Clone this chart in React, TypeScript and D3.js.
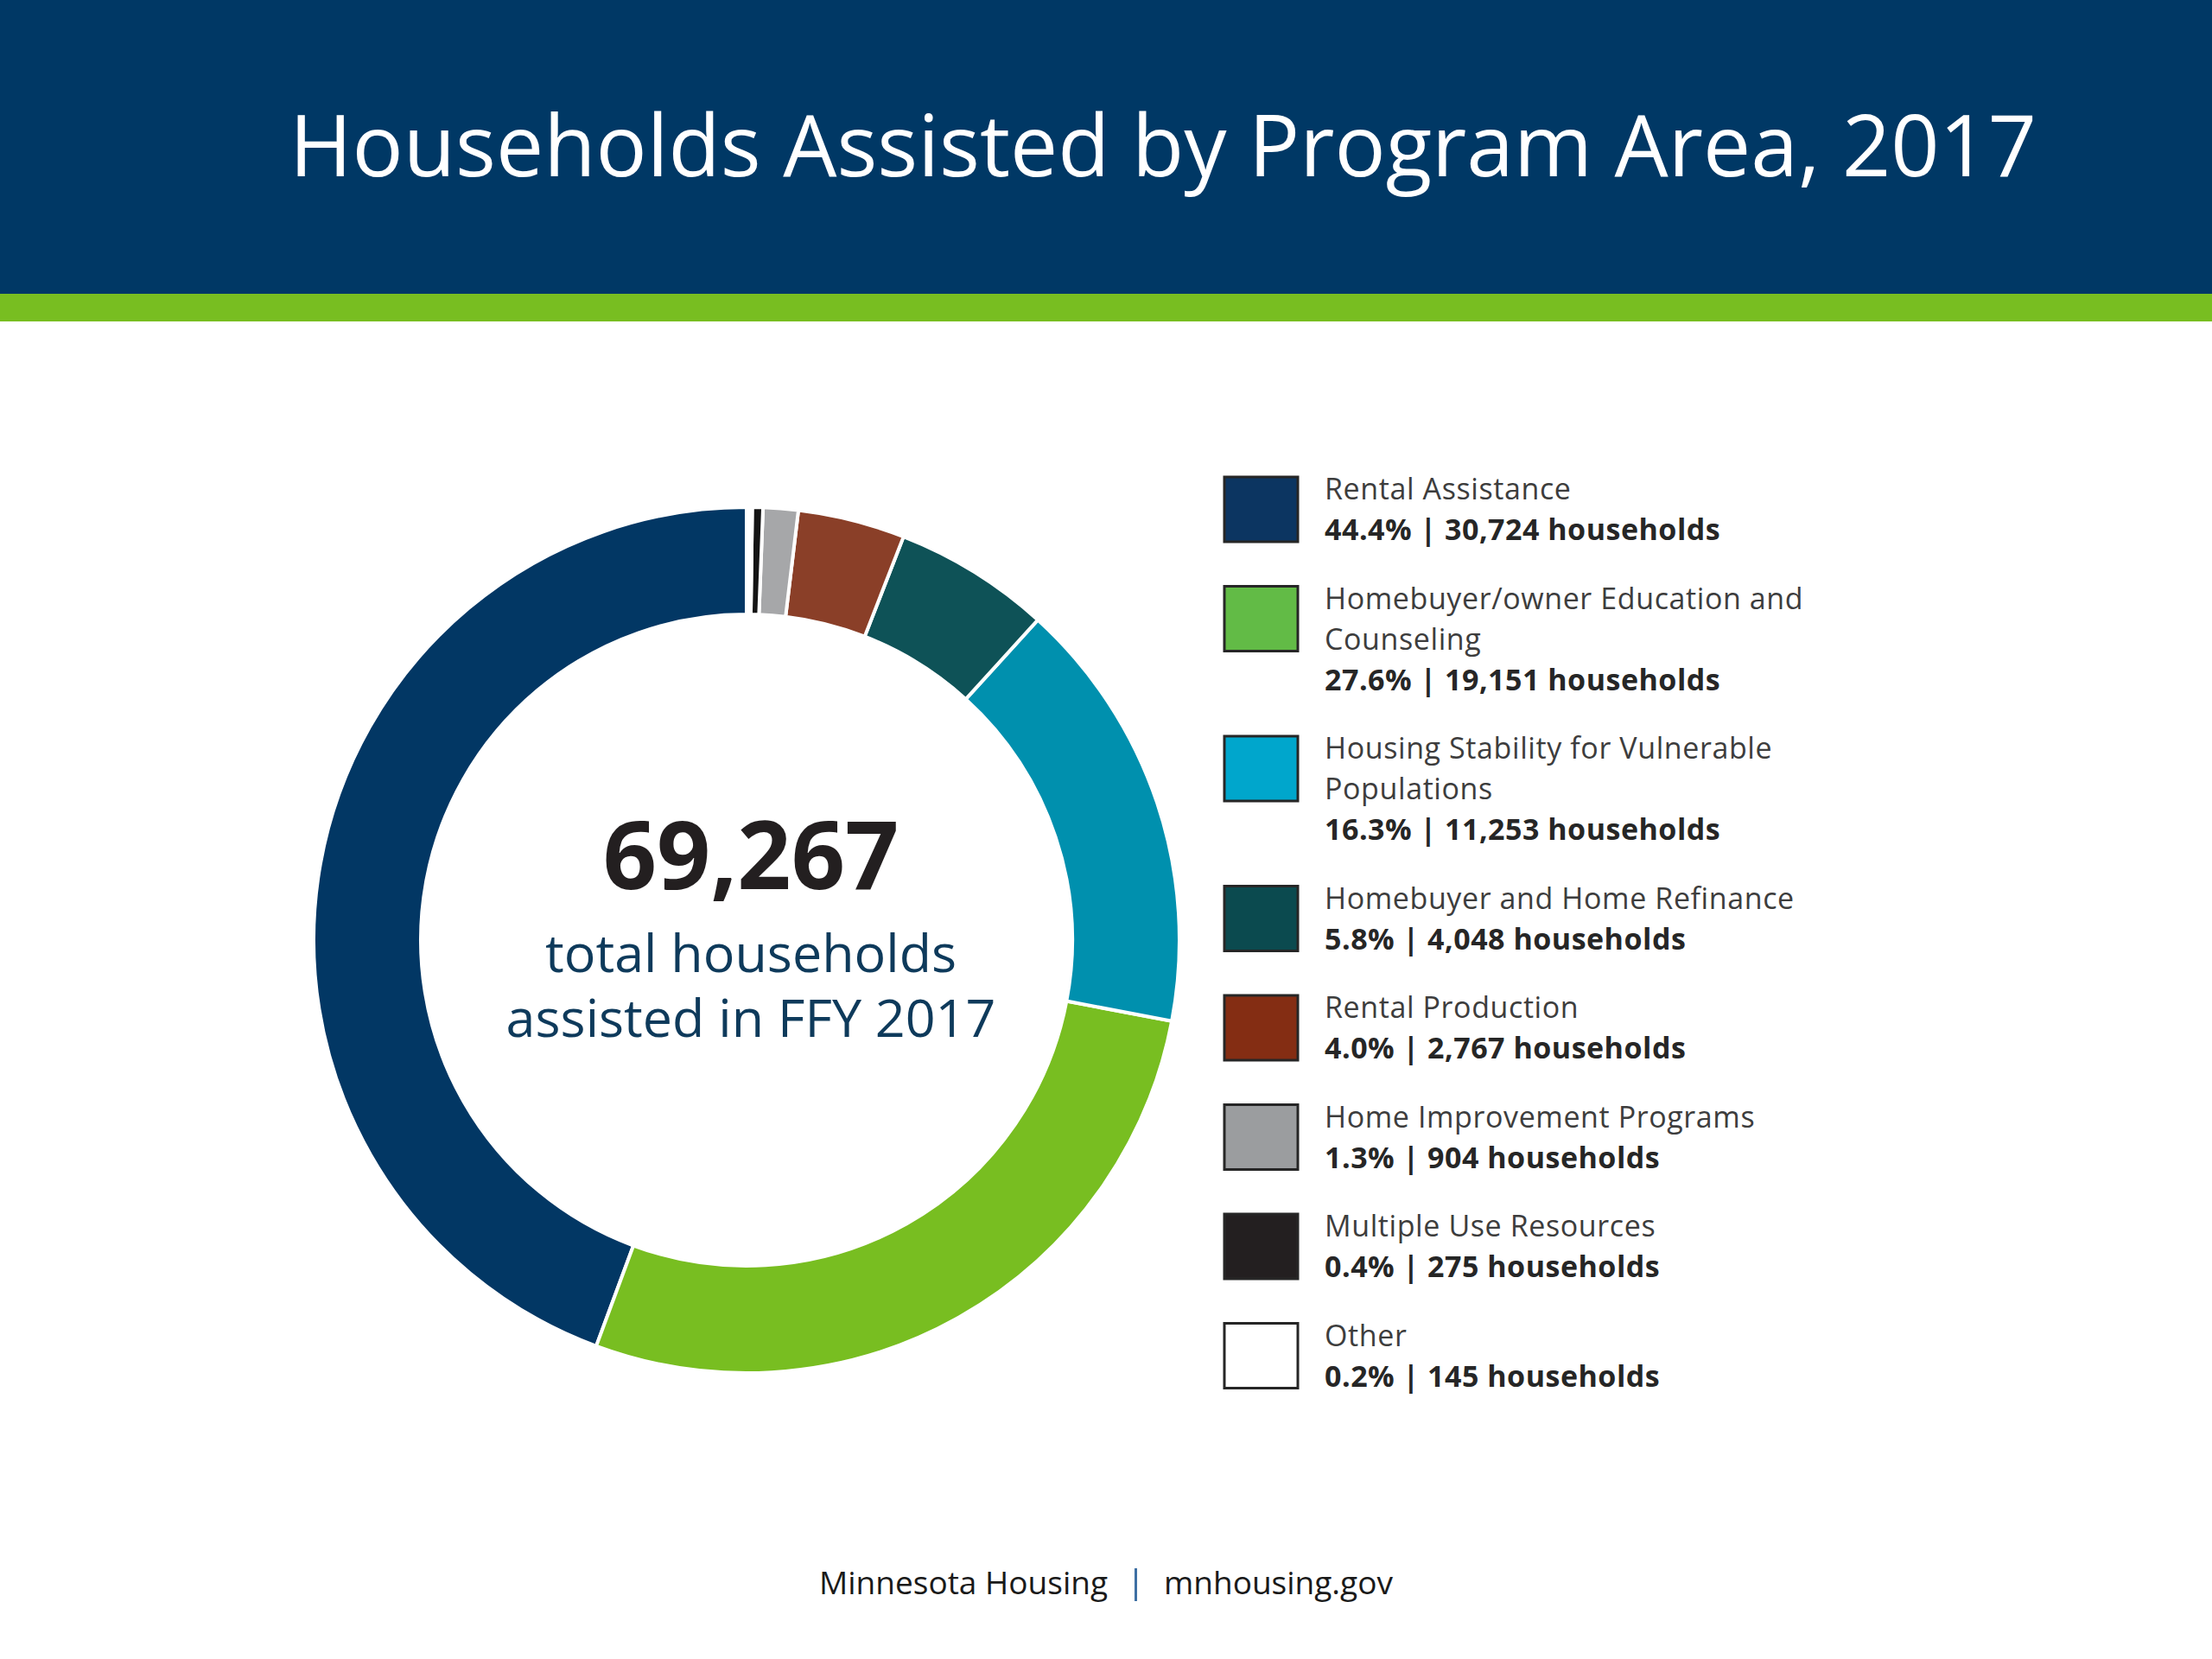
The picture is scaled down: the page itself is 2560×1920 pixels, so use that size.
import React, { useMemo } from "react";
import * as d3 from "d3";

// ---- Data ----
const categories = [
  "Rental Assistance",
  "Homebuyer/owner Education and Counseling",
  "Housing Stability for Vulnerable Populations",
  "Homebuyer and Home Refinance",
  "Rental Production",
  "Home Improvement Programs",
  "Multiple Use Resources",
  "Other",
];
const households = [30724, 19151, 11253, 4048, 2767, 904, 275, 145];
const percents = [44.4, 27.6, 16.3, 5.8, 4.0, 1.3, 0.4, 0.2];
// where legend labels wrap
const labelLines = [
  ["Rental Assistance"],
  ["Homebuyer/owner Education and", "Counseling"],
  ["Housing Stability for Vulnerable", "Populations"],
  ["Homebuyer and Home Refinance"],
  ["Rental Production"],
  ["Home Improvement Programs"],
  ["Multiple Use Resources"],
  ["Other"],
];

// ---- Styles ----
const sliceColors = ["#023764", "#78be21", "#0090ae", "#0e5257", "#8a3f28", "#a6a7a9", "#141414", "#ffffff"];
const swatchColors = ["#0c3561", "#62bb46", "#00a6cc", "#0b4a4f", "#842d13", "#9b9d9f", "#231f20", "#ffffff"];

const W = 2560;
const H = 1920;
const FONT = "'Open Sans', 'Noto Sans', sans-serif";

export default function App() {
  const cx = 864;
  const cy = 1088;
  const rOuter = 501;
  const rInner = 377;

  const arcs = useMemo(() => {
    const pie = d3
      .pie<number>()
      .sort(null)
      .value((d) => d)
      .startAngle(2 * Math.PI)
      .endAngle(0);
    return pie(households);
  }, []);

  const arcGen = d3.arc<d3.PieArcDatum<number>>().innerRadius(rInner).outerRadius(rOuter);

  const total = d3.sum(households);
  const fmt = d3.format(",");

  // legend layout
  const legX = 1417;
  const swW = 85;
  const swH = 75;
  const textX = 1533;
  const lineH = 47;
  const gap = 32.5;
  let y = 552;
  const legendItems = categories.map((c, i) => {
    const top = y;
    const lines = labelLines[i];
    y += (lines.length + 1) * lineH + gap;
    return { c, i, top, lines };
  });

  return (
    <svg
      width={W}
      height={H}
      viewBox={`0 0 ${W} ${H}`}
      style={{ position: "absolute", left: 0, top: 0, display: "block", background: "#ffffff" }}
    >
      <rect x={0} y={0} width={W} height={H} fill="#ffffff" />
      <rect x={0} y={0} width={W} height={340} fill="#003865" />
      <rect x={0} y={340} width={W} height={32} fill="#78be21" />
      <text x={335} y={204} fill="#ffffff" fontFamily={FONT} fontSize={98.4}>
        Households Assisted by Program Area, 2017
      </text>

      <g transform={`translate(${cx},${cy})`}>
        {arcs.map((a, i) => (
          <path key={i} d={arcGen(a) || ""} fill={sliceColors[i]} stroke="#ffffff" strokeWidth={4} strokeLinejoin="miter" />
        ))}
      </g>

      <text x={869} y={1029} textAnchor="middle" fill="#231f20" fontFamily={FONT} fontWeight={700} fontSize={109}>
        {fmt(total)}
      </text>
      <text x={869} y={1125} textAnchor="middle" fill="#0e3a5b" fontFamily={FONT} fontSize={61}>
        total households
      </text>
      <text x={869} y={1200} textAnchor="middle" fill="#0e3a5b" fontFamily={FONT} fontSize={61}>
        assisted in FFY 2017
      </text>

      {legendItems.map(({ c, i, top, lines }) => (
        <g key={c}>
          <rect
            x={legX}
            y={top}
            width={swW}
            height={swH}
            fill={swatchColors[i]}
            stroke="#262626"
            strokeWidth={3}
          />
          {lines.map((ln, j) => (
            <text
              key={j}
              x={textX}
              y={top + 26 + j * lineH}
              fill="#3d3d3d"
              fontFamily={FONT}
              fontSize={34}
              letterSpacing={0.6}
            >
              {ln}
            </text>
          ))}
          <text
            x={textX}
            y={top + 26 + lines.length * lineH}
            fill="#262626"
            fontFamily={FONT}
            fontWeight={700}
            fontSize={34}
            letterSpacing={0.5}
          >
            {`${percents[i].toFixed(1)}% | ${fmt(households[i])} households`}
          </text>
        </g>
      ))}

      <text x={948} y={1845} fill="#1a1a1a" fontFamily={FONT} fontSize={37}>
        Minnesota Housing
      </text>
      <rect x={1313} y={1815} width={3} height={38} fill="#3d6fa3" />
      <text x={1347} y={1845} fill="#1a1a1a" fontFamily={FONT} fontSize={37}>
        mnhousing.gov
      </text>
    </svg>
  );
}
